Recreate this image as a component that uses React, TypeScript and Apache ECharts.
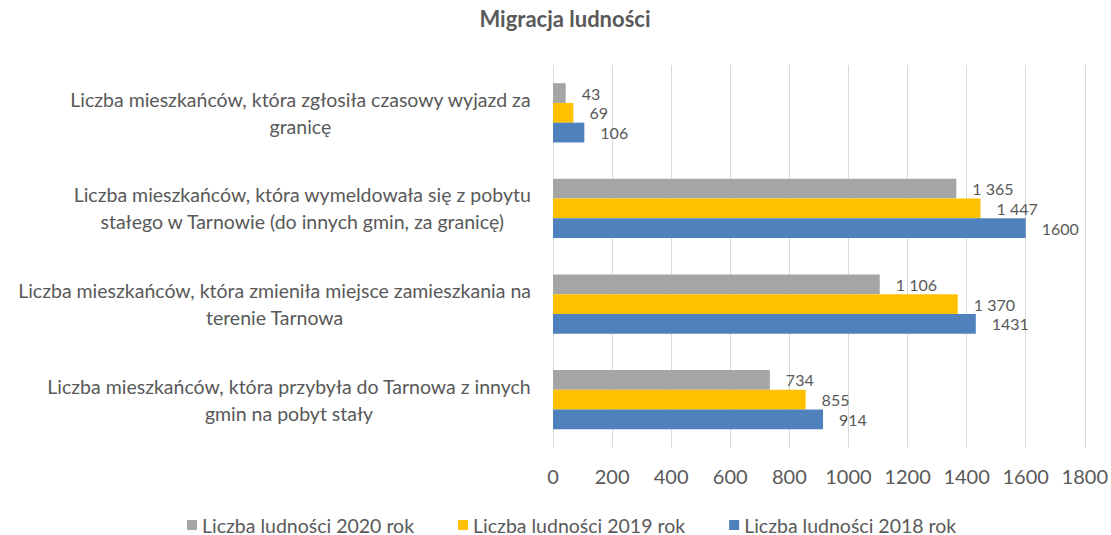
import React, { useEffect, useRef } from "react";
import * as echarts from "echarts";

const titleText = "Migracja ludności";
const categories = [
  "Liczba mieszkańców, która zgłosiła czasowy wyjazd za\ngranicę",
  "Liczba mieszkańców, która wymeldowała się z pobytu\nstałego w Tarnowie (do innych gmin, za granicę)",
  "Liczba mieszkańców, która zmieniła miejsce zamieszkania na\nterenie Tarnowa",
  "Liczba mieszkańców, która przybyła do Tarnowa z innych\ngmin na pobyt stały",
];
const seriesNames = ["Liczba ludności 2020 rok", "Liczba ludności 2019 rok", "Liczba ludności 2018 rok"];
const values2020 = [43, 1365, 1106, 734];
const values2019 = [69, 1447, 1370, 855];
const values2018 = [106, 1600, 1431, 914];
const xTicks = { min: 0, max: 1800, interval: 200 };

const FONT = "Lato, 'Open Sans', sans-serif";
const TEXT = "#595959";

const spaced = (v: number) => String(v).replace(/\B(?=(\d{3})+(?!\d))/g, " ");

export default function App() {
  const ref = useRef<HTMLDivElement>(null);
  useEffect(() => {
    if (!ref.current) return;
    const chart = echarts.init(ref.current, null, { renderer: "svg" });
    const label = (fmt: (v: number) => string) => ({
      show: true,
      position: "right" as const,
      distance: 16,
      color: TEXT,
      fontFamily: FONT,
      fontSize: 16,
      formatter: (p: any) => fmt(p.value),
    });
    const mk = (name: string, data: number[], color: string, fmt: (v: number) => string) => ({
      name,
      type: "bar" as const,
      data,
      barGap: "0%",
      barCategoryGap: "38%",
      itemStyle: { color },
      label: label(fmt),
    });
    chart.setOption({
      animation: false,
      textStyle: { fontFamily: FONT },
      title: {
        text: titleText,
        left: 565,
        textAlign: "center",
        top: 5.5,
        padding: 0,
        textStyle: { color: TEXT, fontFamily: FONT, fontSize: 22, fontWeight: "bold", lineHeight: 26 },
      },
      legend: {
        data: seriesNames,
        left: 187,
        top: 515,
        padding: 0,
        itemWidth: 10,
        itemHeight: 10,
        itemGap: 44,
        icon: "rect",
        textStyle: { color: TEXT, fontFamily: FONT, fontSize: 19.5, lineHeight: 20 },
      },
      grid: { left: 553, right: 25, top: 65, bottom: 87.5, containLabel: false },
      xAxis: {
        type: "value",
        min: xTicks.min,
        max: xTicks.max,
        interval: xTicks.interval,
        axisLine: { show: false },
        axisTick: { show: false },
        splitLine: { show: true, lineStyle: { color: "#D9D9D9", width: 1 } },
        axisLabel: { color: TEXT, fontFamily: FONT, fontSize: 20, margin: 18, formatter: (v: number) => String(v) },
      },
      yAxis: {
        type: "category",
        inverse: true,
        data: categories,
        axisLine: { show: false },
        axisTick: { show: false },
        axisLabel: {
          margin: 22,
          align: "right",
          formatter: (v: string) => v.split("\n").map((l) => `{c|${l}}`).join("\n"),
          rich: {
            c: { align: "center", color: TEXT, fontFamily: FONT, fontSize: 19.5, lineHeight: 27 },
          },
        },
      },
      series: [
        mk(seriesNames[0], values2020, "#A5A5A5", spaced),
        mk(seriesNames[1], values2019, "#FFC000", spaced),
        mk(seriesNames[2], values2018, "#4F81BD", (v) => String(v)),
      ],
    });
    return () => chart.dispose();
  }, []);
  return <div ref={ref} style={{ position: "fixed", left: 0, top: 0, width: 1111, height: 535, background: "#fff" }} />;
}
